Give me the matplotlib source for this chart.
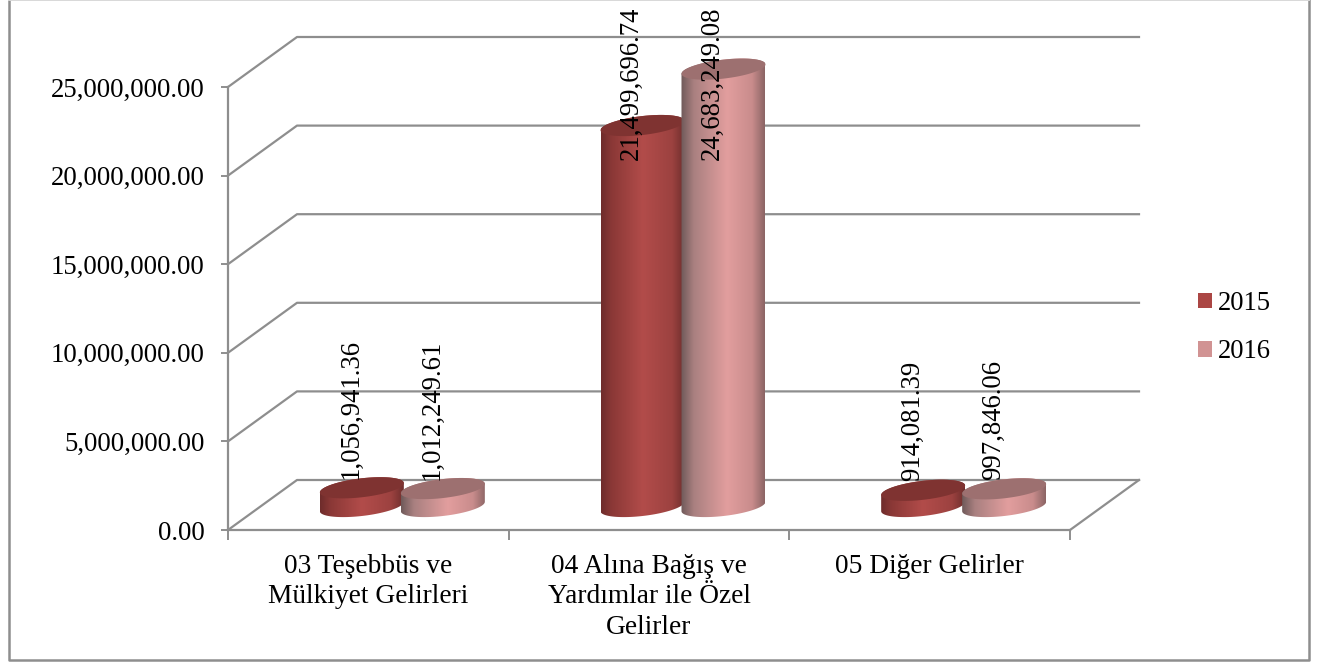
#!/usr/bin/env python

# Cylinder chart of income groups, 2015 and 2016, drawn on an oblique 3D frame

import numpy as np
import matplotlib

matplotlib.use("Agg")
import matplotlib.pyplot as plt
from matplotlib.colors import LinearSegmentedColormap
from matplotlib.patches import Patch, Polygon
from matplotlib.ticker import FuncFormatter

categories = [
    "03 Teşebbüs ve\nMülkiyet Gelirleri",
    "04 Alına Bağış ve\nYardımlar ile Özel\nGelirler",
    "05 Diğer Gelirler",
]
years = ["2015", "2016"]
values_2015 = [1056941.36, 21499696.74, 914081.39]
values_2016 = [1012249.61, 24683249.08, 997846.06]
y_ticks = [0, 5000000, 10000000, 15000000, 20000000, 25000000]

plt.rcParams["font.family"] = ["Liberation Serif", "DejaVu Serif"]

W, H = 1324, 664
GREY = "#8e8e8e"

fig = plt.figure(figsize=(W / 100, H / 100), dpi=100, facecolor="white")

# Frame round the whole chart, the top edge is only just on the page
bg = fig.add_axes([0, 0, 1, 1])
bg.set_axis_off()
bg.set_xlim(0, W)
bg.set_ylim(H, 0)
bg.plot([9, 9, 1308.5, 1308.5], [0, 659.6, 659.6, 0], color=GREY, lw=1.8)
bg.plot([9, 1308.5], [0, 0], color="#d8d8d8", lw=1.4)

# Axes fills the front plane of the 3D box
left, right, top, bottom = 228, 1070, 87, 530
ax = fig.add_axes([left / W, 1 - bottom / H, (right - left) / W, (bottom - top) / H])
ax.patch.set_alpha(0)
ax.set_xlim(0, 3)
ax.set_ylim(0, 25000000)

# pixels to data units
sx = 3 / (right - left)
sy = 25000000 / (bottom - top)
depth_x = 69 * sx
depth_y = 50 * sy

for s in ["top", "right"]:
    ax.spines[s].set_visible(False)
for s in ["left", "bottom"]:
    ax.spines[s].set_color(GREY)
    ax.spines[s].set_linewidth(1.6)

ax.set_yticks(y_ticks)
ax.yaxis.set_major_formatter(FuncFormatter(lambda v, p: "{:,.2f}".format(v)))
ax.tick_params(axis="y", color=GREY, width=1.4, length=5, labelsize=19.3, pad=12)
ax.set_xticks(range(len(categories) + 1))
ax.set_xticklabels([])
ax.tick_params(axis="x", which="major", color=GREY, width=1.4, length=7)
ax.set_xticks(np.arange(len(categories)) + 0.5, minor=True)
ax.set_xticklabels(categories, minor=True, fontsize=19.7, linespacing=1.3)
ax.tick_params(axis="x", which="minor", length=0, pad=17)

# Walls: diagonal from the front plane, then along the back
for v in y_ticks:
    ax.plot(
        [0, depth_x, 3 + depth_x],
        [v, v + depth_y, v + depth_y],
        color=GREY,
        lw=1.6,
        clip_on=False,
        zorder=1,
    )
ax.plot([3, 3 + depth_x], [0, depth_y], color=GREY, lw=1.6, clip_on=False, zorder=1)

cmaps = [
    LinearSegmentedColormap.from_list(
        "c15", [(0, "#6e2c2b"), (0.12, "#8a3836"), (0.5, "#b24c4a"), (0.85, "#9c4240"), (1, "#6f2e2d")]
    ),
    LinearSegmentedColormap.from_list(
        "c16", [(0, "#705a5a"), (0.15, "#a98080"), (0.55, "#e29e9e"), (0.85, "#c98c8c"), (1, "#8c6565")]
    ),
]
top_colours = ["#7f3331", "#9d7070"]
legend_colours = ["#ab4644", "#d19393"]

half_w = 42 * sx
half_h = 9.5 * sy
slope = 4.7 * sy  # the ellipses lean up to the right
base = 23.5 * sy
shift = 34 * sx
gap = 81 * sx
gradient = np.linspace(0, 1, 200).reshape(1, -1)


def arc(cx, cy, t0, t1):
    t = np.linspace(t0, t1, 60)
    return np.column_stack(
        [cx + half_w * np.cos(t), cy + half_h * np.sin(t) + slope * np.cos(t)]
    )


def cylinder(cx, value, cmap, top_colour, z):
    y0 = base
    y1 = base + value
    # side: lower half of the base ellipse, then upper half of the top one
    side = np.vstack([arc(cx, y0, np.pi, 2 * np.pi), arc(cx, y1, 0, np.pi)])
    im = ax.imshow(
        gradient,
        extent=[cx - half_w, cx + half_w, y0 - 2 * half_h, y1 + 2 * half_h],
        cmap=cmap,
        aspect="auto",
        zorder=z,
        interpolation="bilinear",
    )
    # images stop at the axes box unless told otherwise
    im.set_clip_box(fig.bbox)
    im.set_clip_path(Polygon(side, closed=True, transform=ax.transData))
    ax.add_patch(
        Polygon(
            arc(cx, y1, 0, 2 * np.pi),
            closed=True,
            facecolor=top_colour,
            edgecolor="none",
            zorder=z + 0.1,
            clip_on=False,
        )
    )


ceiling = 20880000  # big labels stop here and run up over their bars
label_pad = 9 * sy

for s, vals in enumerate([values_2015, values_2016]):
    for i, v in enumerate(vals):
        cx = i + 0.5 + shift + (s - 0.5) * gap
        cylinder(cx, v, cmaps[s], top_colours[s], 3 + s)
        ax.text(
            cx - 11 * sx,
            min(base + v + label_pad, ceiling),
            "{:,.2f}".format(v),
            rotation=90,
            ha="center",
            va="bottom",
            fontsize=19.3,
            color="black",
            clip_on=False,
            zorder=10,
        )

ax.set_xlim(0, 3)
ax.set_ylim(0, 25000000)

handles = [Patch(facecolor=c, edgecolor="none") for c in legend_colours]
fig.legend(
    handles,
    years,
    loc="center left",
    bbox_to_anchor=(1198 / W, 1 - 327.5 / H),
    frameon=False,
    fontsize=19.2,
    handlelength=0.53,
    handleheight=0.53,
    handletextpad=0.2,
    labelspacing=0.87,
    borderpad=0,
    borderaxespad=0,
)

fig.savefig("out.png", dpi=100)
